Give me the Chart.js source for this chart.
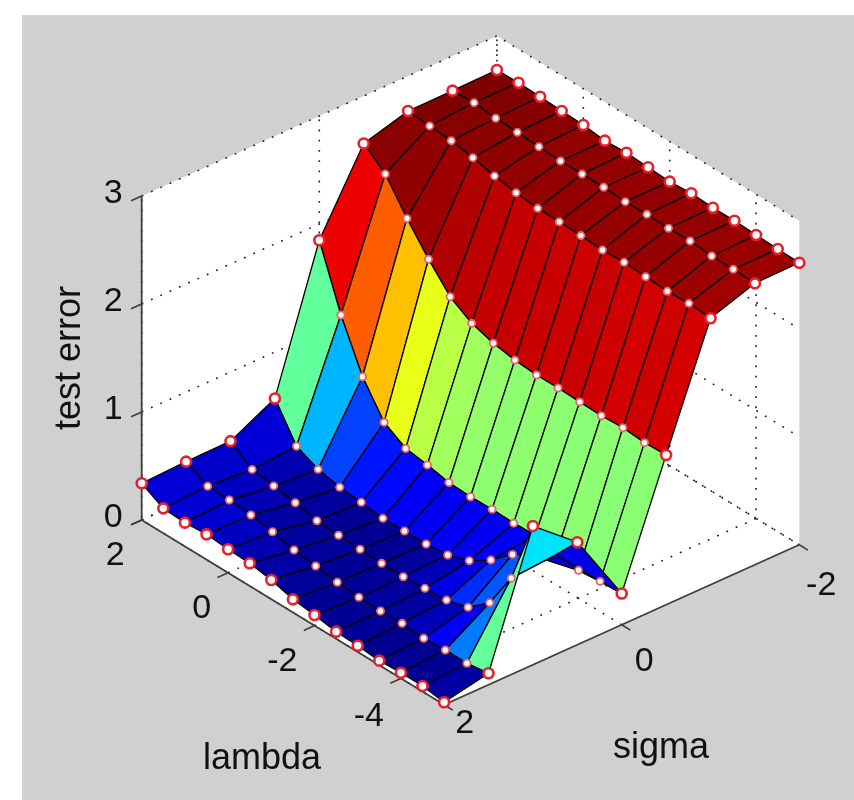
<!DOCTYPE html>
<html>
<head>
<meta charset="utf-8">
<title>test error</title>
<script src="https://cdn.jsdelivr.net/npm/chart.js@4"></script>
<style>
  html, body { margin: 0; background: #fff; overflow: hidden; }
  #figure { position: absolute; left: 22px; top: 15px; width: 832px; height: 785px; background: #d0d0d0; }
  #surface { position: absolute; left: 0; top: 0; filter: blur(0.7px); }
</style>
</head>
<body>
<div id="figure"></div>
<canvas id="surface" width="854" height="800"></canvas>
<script>
// grid of the parameter search
var sigmaValues = [2, 1.5, 1, 0.5, 0, -0.5, -1, -1.5, -2];
var lambdaValues = [2, 1.5, 1, 0.5, 0, -0.5, -1, -1.5, -2, -2.5, -3, -3.5, -4, -4.5, -5];

// test error, one list per sigma, lambda running 2 .. -5
var errSigma20 = [0.34, 0.23, 0.22, 0.234, 0.218, 0.21, 0.178, 0.121, 0.098, 0.066, 0.058, 0.042, 0.053, 0.052, 0.023];
var errSigma15 = [0.355, 0.25, 0.244, 0.228, 0.195, 0.148, 0.122, 0.094, 0.077, 0.072, 0.08, 0.064, 0.078, 0.077, 0.107];
var errSigma10 = [0.36, 0.22, 0.19, 0.156, 0.112, 0.10, 0.092, 0.084, 0.082, 0.097, 0.11, 0.166, 0.33, 0.68, 1.285];
var errSigma05 = [0.57, 0.25, 0.158, 0.114, 0.097, 0.071, 0.076, 0.078, 0.098, 0.168, 0.296, 0.47, 0.58, 0.71, 0.95];
var errSigma00 = [1.85, 1.28, 0.83, 0.53, 0.41, 0.38, 0.34, 0.33, 0.336, 0.33, 0.34, 0.31, 0.26, 0.28, 0.29];
var errSigmaM05 = [2.56, 2.40, 2.11, 1.855, 1.63, 1.506, 1.444, 1.41, 1.394, 1.396, 1.39, 1.384, 1.395, 1.379, 1.387];
var errSigmaM10 = [2.676, 2.66, 2.645, 2.61, 2.563, 2.53, 2.508, 2.506, 2.50, 2.489, 2.497, 2.486, 2.473, 2.484, 2.468];
var errSigmaM15 = [2.679, 2.69, 2.668, 2.66, 2.649, 2.639, 2.64, 2.64, 2.629, 2.634, 2.627, 2.631, 2.615, 2.614, 2.606];
var errSigmaM20 = [2.685, 2.69, 2.682, 2.672, 2.665, 2.642, 2.653, 2.64, 2.629, 2.644, 2.632, 2.634, 2.624, 2.617, 2.612];
var testError = [errSigma20, errSigma15, errSigma10, errSigma05, errSigma00, errSigmaM05, errSigmaM10, errSigmaM15, errSigmaM20];

// axis ticks
var sigmaTicks = [2, 0, -2];
var lambdaTicks = [2, 0, -2, -4];
var errorTicks = [0, 1, 2, 3];

// fixed matlab style view: pixels per unit along each axis
var origin = { x: 141.7, y: 520 };
function project(sigma, lambda, err) {
  var ds = 2 - sigma, dl = 2 - lambda;
  return { x: origin.x + ds * 88.8 + dl * 43.2, y: origin.y - ds * 40 + dl * 26.4 - err * 108 };
}

// same as matlab's jet colormap
function jet(t) {
  function ch(v) { return Math.round(255 * Math.max(0, Math.min(1, 1.5 - Math.abs(4 * t - v)))); }
  return "rgb(" + ch(3) + "," + ch(2) + "," + ch(1) + ")";
}

var allErr = testError.reduce(function(a, b) { return a.concat(b); }, []);
var errMin = Math.min.apply(null, allErr);
var errMax = Math.max.apply(null, allErr);

var datasets = [];
var drawOrder = 100000;

function addLine(points, color, width, dash) {
  datasets.push({
    data: points, showLine: true, fill: false, borderColor: color, borderWidth: width,
    borderDash: dash || [], pointRadius: 0, order: drawOrder--
  });
}

// white box behind everything
var sMin = -2, sMax = 2, lMin = -5, lMax = 2, zTop = 3;
datasets.push({
  data: [project(sMax, lMax, 0), project(sMax, lMax, zTop), project(sMin, lMax, zTop), project(sMin, lMin, zTop), project(sMin, lMin, 0), project(sMax, lMin, 0)],
  showLine: true, fill: "shape", backgroundColor: "#fff", borderWidth: 0, pointRadius: 0, order: drawOrder--
});

// dotted grid on the floor and the two back walls
var dotted = [1.8, 8.4], gridColor = "#222";
errorTicks.forEach(function(z) {
  addLine([project(sMax, lMax, z), project(sMin, lMax, z), project(sMin, lMin, z)], gridColor, 1.6, dotted);
});
sigmaTicks.forEach(function(s) {
  addLine([project(s, lMin, 0), project(s, lMax, 0), project(s, lMax, zTop)], gridColor, 1.6, dotted);
});
lambdaTicks.forEach(function(l) {
  addLine([project(sMax, l, 0), project(sMin, l, 0), project(sMin, l, zTop)], gridColor, 1.6, dotted);
});

// solid axes and tick marks
var axisColor = "#3c403c";
addLine([project(sMax, lMax, zTop), project(sMax, lMax, 0), project(sMax, lMin, 0), project(sMin, lMin, 0)], axisColor, 1.8);
errorTicks.forEach(function(z) {
  addLine([project(sMax, lMax, z), project(sMax + 0.12, lMax, z)], axisColor, 1.6);
});
lambdaTicks.forEach(function(l) {
  addLine([project(sMax, l, 0), project(sMax + 0.12, l, 0)], axisColor, 1.6);
});
sigmaTicks.forEach(function(s) {
  addLine([project(s, lMin, 0), project(s, lMin - 0.2, 0)], axisColor, 1.6);
});

// surface cells, far ones first so nearer cells paint over them
lambdaValues.slice(1).forEach(function(lam, jj) {
  for (var i = sigmaValues.length - 2; i >= 0; i--) {
    var j = jj;
    var cellErr = testError[i + 1][j + 1];
    var p = [
      project(sigmaValues[i], lambdaValues[j], testError[i][j]),
      project(sigmaValues[i + 1], lambdaValues[j], testError[i + 1][j]),
      project(sigmaValues[i + 1], lambdaValues[j + 1], testError[i + 1][j + 1]),
      project(sigmaValues[i], lambdaValues[j + 1], testError[i][j + 1])
    ];
    p.push(p[0]);
    datasets.push({
      data: p, showLine: true, fill: "shape",
      backgroundColor: jet((cellErr - errMin) / (errMax - errMin)),
      borderColor: "#000", borderWidth: 1.3, pointRadius: 0, tension: 0, order: drawOrder--
    });
  }
});

// circles on every grid point; the few behind the ridge stay hidden
var hiddenPoints = ["3,12", "3,13", "4,10", "4,11"];
var markers = [], markerRadius = [], markerBorder = [], markerLine = [];
sigmaValues.forEach(function(s, i) {
  lambdaValues.forEach(function(l, j) {
    var onEdge = i === 0 || j === 0 || j === lambdaValues.length - 1 || i === sigmaValues.length - 1;
    var hide = hiddenPoints.indexOf(i + "," + j) >= 0;
    markers.push(project(s, l, testError[i][j]));
    markerRadius.push(hide ? 0 : onEdge ? 5 : 3.6);
    markerLine.push(hide ? 0 : onEdge ? 2.6 : 1.8);
    markerBorder.push(onEdge ? "#e8202c" : "#e86068");
  });
});
datasets.push({
  data: markers, showLine: false, pointRadius: markerRadius, pointBorderWidth: markerLine,
  pointBorderColor: markerBorder, pointBackgroundColor: "#fff", order: drawOrder--
});

// tick numbers and axis titles are plain text over the chart
var textFont = '"Liberation Sans", Arial, sans-serif';
var labelsPlugin = {
  id: "axisText",
  afterDraw: function(chart) {
    var ctx = chart.ctx, xs = chart.scales.x, ys = chart.scales.y;
    function text(str, pt, dx, dy, align) {
      ctx.textAlign = align;
      ctx.fillText(str, xs.getPixelForValue(pt.x) + dx, ys.getPixelForValue(pt.y) + dy);
    }
    ctx.save();
    ctx.fillStyle = "#111";
    ctx.textBaseline = "middle";
    ctx.font = "34px " + textFont;
    errorTicks.forEach(function(z) { text(String(z), project(sMax, lMax, z), -19, -2, "right"); });
    lambdaTicks.forEach(function(l) { text(String(l), project(sMax, l, 0), -17, l === -4 ? 38 : 36, "right"); });
    sigmaTicks.forEach(function(s) { text(String(s), project(s, lMin, 0), s === 2 ? 30 : s === 0 ? 32 : 37, s === 2 ? 19 : s === 0 ? 37 : 41, "right"); });
    ctx.font = "36px " + textFont;
    ctx.textAlign = "center";
    ctx.fillText("lambda", 262, 759);
    ctx.fillText("sigma", 661, 748);
    ctx.translate(70, 358);
    ctx.rotate(-Math.PI / 2);
    ctx.fillText("test error", 0, 0);
    ctx.restore();
  }
};

var myChart = new Chart(document.getElementById("surface").getContext("2d"), {
  type: "scatter",
  data: { datasets: datasets },
  options: {
    responsive: false,
    animation: false,
    events: [],
    layout: { padding: 0, autoPadding: false },
    scales: {
      x: { type: "linear", min: 0, max: 854, display: false },
      y: { type: "linear", min: 0, max: 800, reverse: true, display: false }
    },
    plugins: { legend: { display: false }, tooltip: { enabled: false } }
  },
  plugins: [labelsPlugin]
});
</script>
</body>
</html>
